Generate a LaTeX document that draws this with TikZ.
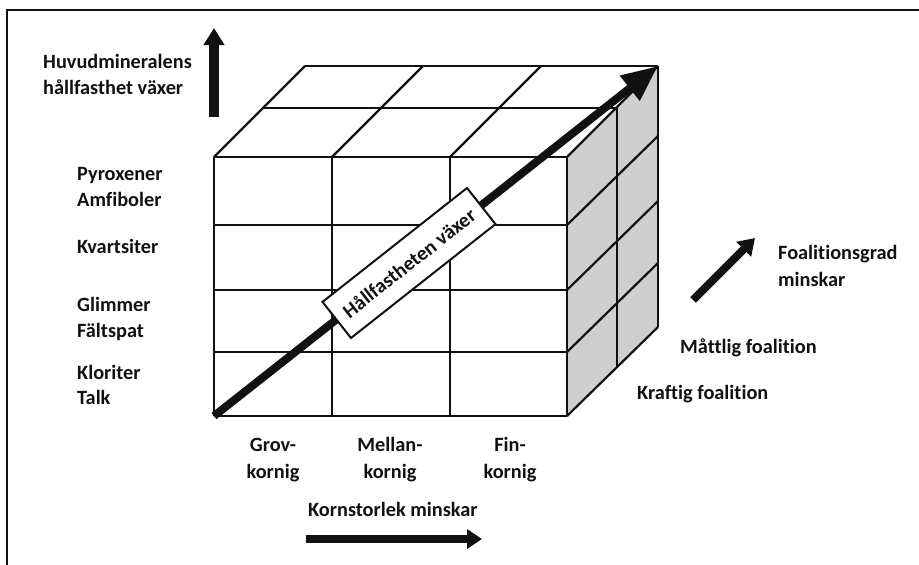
\documentclass[tikz,border=0pt]{standalone}
\usepackage{fontspec}
\setmainfont{Carlito}[Ligatures=NoCommon]
\usetikzlibrary{arrows.meta}
\definecolor{ink}{HTML}{111111}
\definecolor{sideface}{HTML}{CFCFCF}
\begin{document}
\begin{tikzpicture}[x=1pt,y=-1pt,
  lbl/.style={font=\bfseries\fontsize{20.3}{27}\selectfont, text=ink, inner sep=0pt},
  gridline/.style={line width=2.2pt, draw=ink, line join=round},
  fatarrow/.style={draw=ink, line width=#1},
  frameline/.style={line width=2.2pt, draw=ink}]
\useasboundingbox (0,0) rectangle (919,565);

% outer frame (open towards right and bottom)
\coordinate (frameBL) at (7,566);
\coordinate (frameTL) at (7,10);
\coordinate (frameTR) at (920,10);
\draw[frameline] (frameBL) -- (frameTL) -- (frameTR);

% right face of the block
\coordinate (rfTL) at (567,157);
\coordinate (rfTR) at (658,66);
\coordinate (rfBR) at (658,327);
\coordinate (rfBL) at (567,416);
\fill[sideface] (rfTL) -- (rfTR) -- (rfBR) -- (rfBL) -- cycle;

% front face grid
\foreach \y in {157,225,290,352,416}
  \draw[gridline] (214,\y) -- (567,\y);
\foreach \x in {214,332,450,567}
  \draw[gridline] (\x,157) -- (\x,416);

% top face grid
\foreach \x in {214,332,450,567}
  \draw[gridline] (\x,157) -- ++(91,-91);
\draw[gridline] (264,108) -- (617,108);
\draw[gridline] (305,66) -- (658,66);

% right face grid
\foreach \y in {225,290,352,416}
  \draw[gridline] (567,\y) -- ++(91,-89);
\draw[gridline] (617,108) -- (617,367);
\draw[gridline] (rfTR) -- (rfBR);

% main diagonal
\coordinate (diagStart) at (214,416);
\coordinate (diagEnd) at (658,66);
\draw[fatarrow=8pt, -{Triangle[length=36pt,width=30pt]}] (diagStart) -- (diagEnd);
\node[draw=ink, fill=white, line width=2pt, rotate=38.25,
      minimum width=184pt, minimum height=46pt, lbl, inner sep=0pt]
      (diagLabel) at (409,263) {Hållfastheten växer};

% vertical axis
\coordinate (upStart) at (214,117);
\coordinate (upEnd) at (214,28);
\draw[fatarrow=10pt, -{Triangle[length=17pt,width=20pt]}] (upStart) -- (upEnd);
\node[lbl, anchor=base west] (upA) at (43,68) {Huvudmineralens};
\node[lbl, anchor=base west] (upB) at (43,94) {hållfasthet växer};

\node[lbl, anchor=base west] (m1) at (77,180) {Pyroxener};
\node[lbl, anchor=base west] (m2) at (77,206) {Amfiboler};
\node[lbl, anchor=base west] (m3) at (77,253) {Kvartsiter};
\node[lbl, anchor=base west] (m4) at (77,311) {Glimmer};
\node[lbl, anchor=base west] (m5) at (77,337) {Fältspat};
\node[lbl, anchor=base west] (m6) at (77,379) {Kloriter};
\node[lbl, anchor=base west] (m7) at (77,404) {Talk};

% horizontal axis (base anchor sits on the second line)
\node[lbl, align=center, anchor=base] (g1) at (273,478) {Grov-\\kornig};
\node[lbl, align=center, anchor=base] (g2) at (390,478) {Mellan-\\kornig};
\node[lbl, align=center, anchor=base] (g3) at (510,478) {Fin-\\kornig};
\node[lbl, anchor=base west] (kornLbl) at (308,516) {Kornstorlek minskar};
\coordinate (rightStart) at (306,539);
\coordinate (rightEnd) at (482,539);
\draw[fatarrow=8pt, -{Triangle[length=15pt,width=19pt]}] (rightStart) -- (rightEnd);

% depth axis
\coordinate (depthStart) at (693,300);
\coordinate (depthEnd) at (755,238);
\draw[fatarrow=8pt, -{Triangle[length=16pt,width=20pt]}] (depthStart) -- (depthEnd);
\node[lbl, anchor=base west] (fa) at (778,259) {Foalitionsgrad};
\node[lbl, anchor=base west] (fb) at (778,286) {minskar};
\node[lbl, anchor=base west] (mf) at (680,353) {Måttlig foalition};
\node[lbl, anchor=base west] (kf) at (637,399) {Kraftig foalition};
\end{tikzpicture}
\end{document}
